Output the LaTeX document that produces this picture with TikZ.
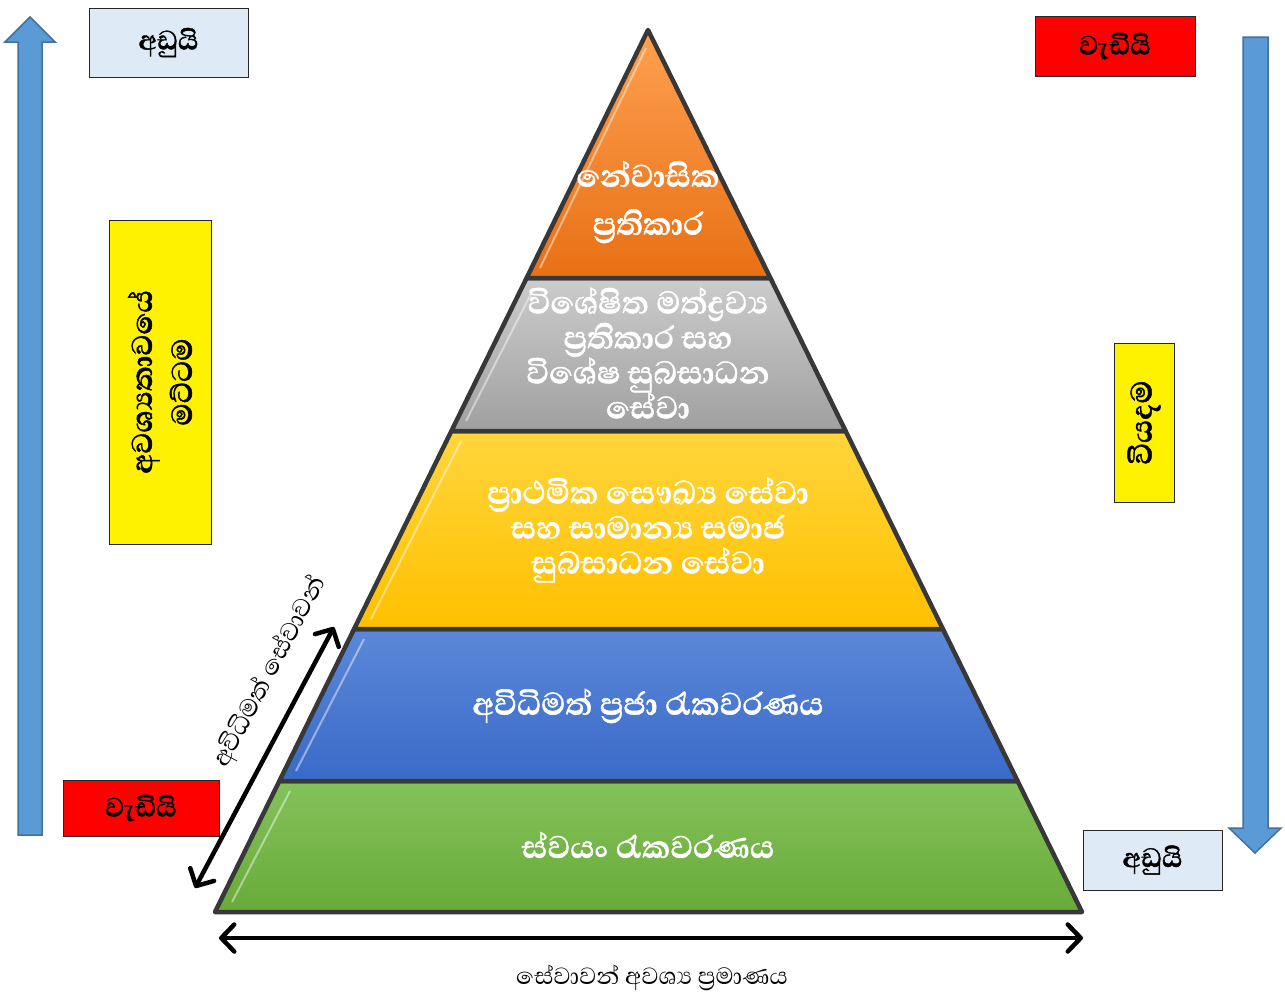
\documentclass[tikz,border=0pt]{standalone}
\usepackage{fontspec}
\newfontfamily\sinhfont[Script=Sinhala, BoldFeatures={FakeBold=1.2}]{Abhaya Libre}
\usetikzlibrary{arrows.meta}
\definecolor{arrowblue}{HTML}{5B9BD5}
\definecolor{arrowedge}{HTML}{41719C}
\definecolor{lightbox}{HTML}{DEEAF6}
\tikzset{
  layer/.style={draw=black!78, line width=4.5pt, line join=round},
  laytext/.style={text=white, font=\sinhfont\fontsize{40}{35}\selectfont\bfseries, align=center},
  labelbox/.style={draw=black!85, line width=1pt, font=\sinhfont\fontsize{34}{36}\selectfont\bfseries, inner sep=0pt},
  blockarrow/.style={fill=arrowblue, draw=arrowedge, line width=1.5pt},
  dbl/.style={line width=4.5pt, {Straight Barb[length=13pt,width=27pt,line cap=round,line join=round]}-{Straight Barb[length=13pt,width=27pt,line cap=round,line join=round]}},
}
\begin{document}
\begin{tikzpicture}[x=1pt,y=-1pt]
\useasboundingbox (0,0) rectangle (1285,993);
\fill[white] (0,0) rectangle (1285,993);

% block arrows
\draw[blockarrow] (18,835) -- (18,42) -- (5,42) -- (30,17) -- (55,42) -- (42,42) -- (42,835) -- cycle;
\draw[blockarrow] (1243,37) -- (1268,37) -- (1268,828) -- (1281,828) -- (1255,853) -- (1229,828) -- (1243,828) -- cycle;

% pyramid layers
\shade[layer, top color={rgb,255:red,132;green,194;blue,90}, bottom color={rgb,255:red,104;green,170;blue,58}]
  (279.4,781) -- (1017.6,781) -- (1082,912) -- (215,912) -- cycle;
\shade[layer, top color={rgb,255:red,92;green,136;blue,216}, bottom color={rgb,255:red,58;green,106;blue,200}]
  (354.1,629) -- (942.9,629) -- (1017.6,781) -- (279.4,781) -- cycle;
\shade[layer, top color={rgb,255:red,255;green,214;blue,60}, bottom color={rgb,255:red,255;green,192;blue,0}]
  (451.4,431) -- (845.6,431) -- (942.9,629) -- (354.1,629) -- cycle;
\shade[layer, top color={rgb,255:red,204;green,204;blue,204}, bottom color={rgb,255:red,160;green,160;blue,160}]
  (526.6,278) -- (770.4,278) -- (845.6,431) -- (451.4,431) -- cycle;
\shade[layer, top color={rgb,255:red,255;green,160;blue,80}, bottom color={rgb,255:red,232;green,112;blue,20}]
  (648,30) -- (770.4,278) -- (526.6,278) -- cycle;

% bevel highlights
\draw[white, opacity=0.45, line width=2pt] (290,791) -- (232,902);
\draw[white, opacity=0.45, line width=2pt] (364,639) -- (296,771);
\draw[white, opacity=0.45, line width=2pt] (461,441) -- (371,619);
\draw[white, opacity=0.45, line width=2pt] (534,288) -- (466,421);
\draw[white, opacity=0.45, line width=2pt] (646,48) -- (540,268);

% layer texts
\node[laytext, font=\sinhfont\fontsize{40}{48}\selectfont\bfseries] (t1) at (648,202) {නේවාසික\\ප්^^^^200dරතිකාර};
\node[laytext] (t2) at (648,353) {විශේෂිත මත්ද්^^^^200dරව්^^^^200dය\\ප්^^^^200dරතිකාර සහ\\විශේෂ සුබසාධන\\සේවා};
\node[laytext] (t3) at (648,530) {ප්^^^^200dරාථමික සෞඛ්^^^^200dය සේවා\\සහ සාමාන්^^^^200dය සමාජ\\සුබසාධන සේවා};
\node[laytext] (t4) at (648,706) {අවිධිමත් ප්^^^^200dරජා රැකවරණය};
\node[laytext] (t5) at (648,845) {ස්වයං රැකවරණය};

% label boxes
\node[labelbox, fill=lightbox, minimum width=159pt, minimum height=69pt] (lowTL) at (168.5,42.5) {අඩුයි};
\node[labelbox, fill=red, minimum width=160pt, minimum height=60pt] (highTR) at (1115,46) {වැඩියි};
\node[labelbox, fill=red, minimum width=156pt, minimum height=56pt] (highBL) at (141,808) {වැඩියි};
\node[labelbox, fill=lightbox, minimum width=139pt, minimum height=60pt] (lowBR) at (1152.5,860) {අඩුයි};
\node[labelbox, fill=yellow, minimum width=102pt, minimum height=324pt] (needBox) at (160,382) {};
\node[font=\sinhfont\fontsize{37}{40}\selectfont\bfseries, rotate=90, align=center] (needText) at (160,382) {අවශ්^^^^200dයතාවයේ\\මට්ටම};
\node[labelbox, fill=yellow, minimum width=60pt, minimum height=159pt] (costBox) at (1144,422.5) {};
\node[font=\sinhfont\fontsize{38}{40}\selectfont\bfseries, rotate=90] (costText) at (1144,422.5) {වියදම};

% double arrows
\coordinate (dA) at (195,888);
\coordinate (dB) at (334,627);
\draw[dbl] (dA) -- (dB);
\node[font=\sinhfont\fontsize{32}{34}\selectfont, rotate=62] (diagText) at (270,672) {අවිධිමත් සේවාවන්};
\coordinate (hA) at (219,938);
\coordinate (hB) at (1083,938);
\draw[dbl] (hA) -- (hB);
\node[font=\sinhfont\fontsize{30}{32}\selectfont] (amount) at (652,978) {සේවාවන් අවශ්^^^^200dය ප්^^^^200dරමාණය};
\end{tikzpicture}
\end{document}
